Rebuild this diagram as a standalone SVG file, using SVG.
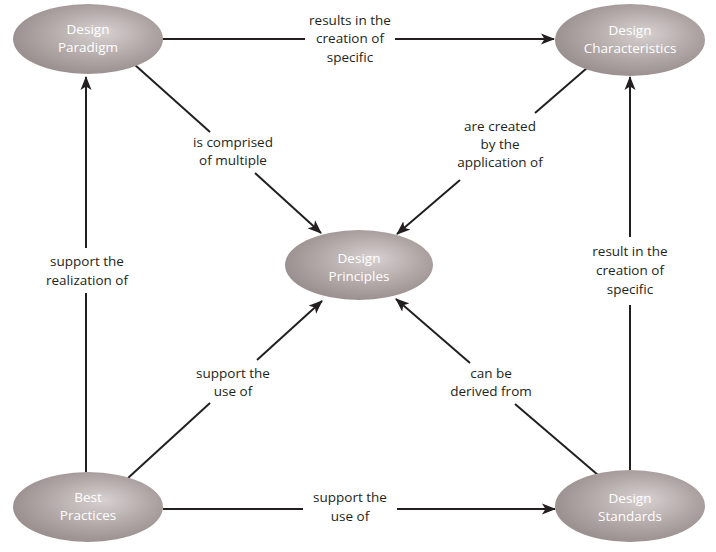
<svg xmlns="http://www.w3.org/2000/svg" width="716" height="552" viewBox="0 0 716 552">
<defs>
<radialGradient id="g" cx="55%" cy="45%" r="55%" fx="60%" fy="40%">
<stop offset="0" stop-color="#d8d1d1"/>
<stop offset="0.6" stop-color="#b3a9a9"/>
<stop offset="1" stop-color="#9c9191"/>
</radialGradient>
<marker id="ah" markerUnits="userSpaceOnUse" markerWidth="14" markerHeight="12" viewBox="0 0 14 12" refX="13" refY="6" orient="auto">
<path d="M0,0.5 L14,6 L0,11.5 L3.5,6 Z" fill="#231f20"/>
</marker>
<style>
.n ellipse{fill:url(#g);}
.n text{fill:#ffffff;font-family:"Open Sans","Liberation Sans",sans-serif;font-size:13.5px;text-anchor:middle;}
.c line{stroke:#231f20;stroke-width:2;fill:none;}
.c line.a{marker-end:url(#ah);}
.l text{fill:#231f20;font-family:"Open Sans","Liberation Sans",sans-serif;font-size:13.5px;text-anchor:middle;}
</style>
</defs>
<rect width="716" height="552" fill="#ffffff"/>
<g class="c" id="connectors">
<!-- top horizontal -->
<line x1="160" y1="39" x2="305" y2="39"/>
<line class="a" x1="395" y1="39" x2="554" y2="39"/>
<!-- left vertical -->
<line x1="86" y1="472" x2="86" y2="293"/>
<line class="a" x1="86" y1="248" x2="86" y2="77"/>
<!-- right vertical -->
<line x1="630" y1="471" x2="630" y2="305"/>
<line class="a" x1="630" y1="237" x2="630" y2="77"/>
<!-- bottom horizontal -->
<line x1="163" y1="509" x2="303" y2="509"/>
<line class="a" x1="397" y1="509" x2="555" y2="509"/>
<!-- paradigm to principles -->
<line x1="135" y1="65" x2="210" y2="132"/>
<line class="a" x1="255" y1="173" x2="321" y2="233"/>
<!-- characteristics to principles -->
<line x1="587" y1="68" x2="535" y2="113"/>
<line class="a" x1="460" y1="180" x2="397" y2="234"/>
<!-- best practices to principles -->
<line x1="128" y1="478" x2="210" y2="403"/>
<line class="a" x1="257" y1="360" x2="322" y2="301"/>
<!-- standards to principles -->
<line x1="598" y1="475" x2="515" y2="404"/>
<line class="a" x1="470" y1="363" x2="396" y2="299"/>
</g>
<g class="l" id="labels">
<text x="350" y="25">results in the</text>
<text x="350" y="43">creation of</text>
<text x="350" y="62">specific</text>
<text x="87" y="266">support the</text>
<text x="87" y="285">realization of</text>
<text x="630" y="256">result in the</text>
<text x="630" y="275">creation of</text>
<text x="630" y="294">specific</text>
<text x="350" y="502">support the</text>
<text x="350" y="521">use of</text>
<text x="233" y="147">is comprised</text>
<text x="233" y="165">of multiple</text>
<text x="500" y="131">are created</text>
<text x="500" y="149">by the</text>
<text x="500" y="167">application of</text>
<text x="233" y="378">support the</text>
<text x="233" y="396">use of</text>
<text x="491" y="378">can be</text>
<text x="491" y="396">derived from</text>
</g>
<g class="n" id="design-paradigm">
<ellipse cx="88" cy="39" rx="75" ry="35"/>
<text x="88" y="34">Design</text>
<text x="88" y="52">Paradigm</text>
</g>
<g class="n" id="design-characteristics">
<ellipse cx="630" cy="40" rx="75" ry="36"/>
<text x="630" y="35">Design</text>
<text x="630" y="53">Characteristics</text>
</g>
<g class="n" id="design-principles">
<ellipse cx="359" cy="265" rx="74" ry="35"/>
<text x="359" y="263">Design</text>
<text x="359" y="281">Principles</text>
</g>
<g class="n" id="best-practices">
<ellipse cx="88" cy="507" rx="75" ry="35"/>
<text x="88" y="502">Best</text>
<text x="88" y="520">Practices</text>
</g>
<g class="n" id="design-standards">
<ellipse cx="630" cy="506" rx="75" ry="36"/>
<text x="630" y="503">Design</text>
<text x="630" y="521">Standards</text>
</g>
</svg>
